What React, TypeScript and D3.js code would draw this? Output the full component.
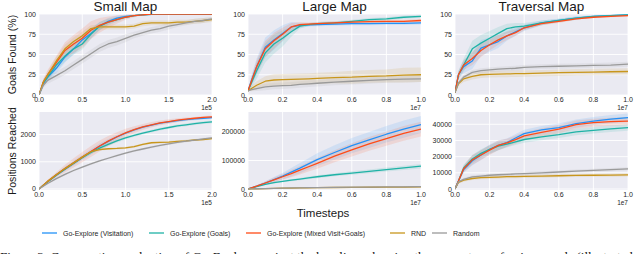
import React from "react";
import * as d3 from "d3";

const seriesNames = [
  "Go-Explore (Visitation)",
  "Go-Explore (Goals)",
  "Go-Explore (Mixed Visit+Goals)",
  "RND",
  "Random",
];
const seriesColors = ["#2391f7", "#1fb2a6", "#ff4b17", "#c8961c", "#9a9a9a"];

// x samples: small map in units of 1e5, large / traversal in units of 1e7
const smallX = [0, 0.05, 0.1, 0.2, 0.3, 0.4, 0.5, 0.6, 0.7, 0.8, 0.9, 1.0, 1.1, 1.2, 1.3, 1.4, 1.5, 1.6, 1.7, 1.8, 1.9, 2.0];
const bigX = [0, 0.02, 0.05, 0.1, 0.15, 0.2, 0.25, 0.3, 0.35, 0.4, 0.5, 0.6, 0.7, 0.8, 0.9, 1.0];

// Small map, goals found (%)
const smallGoalsVisitation = [0, 14, 22, 33, 47, 57, 68, 76, 85, 91, 95, 97, 98, 99, 99.5, 100, 100, 100, 100, 100, 100, 100];
const smallGoalsGoals = [0, 15, 22, 37, 48, 57, 63, 75, 85, 90, 93, 96, 98, 99, 99.5, 100, 100, 100, 100, 100, 100, 100];
const smallGoalsMixed = [0, 16, 25, 40, 55, 63, 70, 80, 86, 90, 93, 96, 98, 99, 100, 100, 100, 100, 100, 100, 100, 100];
const smallGoalsRnd = [0, 16, 25, 42, 57, 66, 73, 82, 84, 84, 84, 84, 85, 88, 89, 89, 89, 90, 90, 91, 92, 93];
const smallGoalsRandom = [0, 12, 18, 24, 30, 37, 44, 51, 58, 63, 66, 70, 74, 77, 80, 82, 85, 87, 89, 91, 92, 94];
const smallGoalsBandVisitation = [0, 4, 5, 6, 7, 7, 7, 6, 5, 4, 3, 2, 1, 1, 0, 0, 0, 0, 0, 0, 0, 0];
const smallGoalsBandGoals = [0, 4, 5, 6, 7, 7, 7, 6, 5, 4, 3, 2, 1, 1, 0, 0, 0, 0, 0, 0, 0, 0];
const smallGoalsBandMixed = [0, 4, 6, 8, 10, 11, 12, 11, 9, 7, 5, 3, 2, 1, 0, 0, 0, 0, 0, 0, 0, 0];
const smallGoalsBandRnd = [0, 3, 4, 5, 5, 5, 5, 4, 3, 3, 3, 3, 3, 3, 3, 3, 3, 3, 3, 3, 3, 3];
const smallGoalsBandRandom = [0, 3, 4, 5, 5, 5, 5, 5, 5, 5, 5, 5, 4, 4, 4, 4, 4, 3, 3, 3, 3, 2];

// Large map, goals found (%)
const largeGoalsVisitation = [5, 18, 35, 59, 68, 76, 84, 86, 86.5, 87, 87.5, 88, 88, 88.5, 88.5, 89];
const largeGoalsGoals = [5, 15, 30, 52, 63, 70, 78, 85, 87, 88, 89, 91, 93, 94, 96, 97];
const largeGoalsMixed = [5, 17, 35, 57, 67, 75, 84, 87, 87.5, 88, 89, 90, 90.5, 91, 91, 92];
const largeGoalsRnd = [5, 8, 12, 17, 18.5, 19, 19.2, 19.5, 20, 20.5, 21.5, 22, 23, 23.5, 24.5, 25];
const largeGoalsRandom = [5, 6.5, 8, 10, 11, 11.5, 12, 13, 13.8, 14.5, 16, 17, 18, 19, 19.5, 20];
const largeGoalsBandVisitation = [0, 6, 10, 12, 12, 10, 6, 3, 2, 2, 2, 2, 2, 2, 2, 2];
const largeGoalsBandGoals = [0, 6, 10, 12, 12, 10, 6, 3, 2, 2, 2, 2, 2, 2, 2, 2];
const largeGoalsBandMixed = [0, 5, 8, 10, 10, 8, 5, 3, 2, 2, 2, 2, 2, 2, 2, 2];
const largeGoalsBandRnd = [0, 3, 5, 6, 7, 7, 7, 7, 7, 7, 7, 8, 8, 8, 9, 9];
const largeGoalsBandRandom = [0, 2, 3, 4, 4, 4, 4, 4, 4, 4, 4, 4, 4, 4, 4, 4];

// Traversal map, goals found (%)
const travGoalsVisitation = [3, 25, 35, 42, 58, 62, 66, 73, 78, 83, 89, 92, 95, 97, 98, 99];
const travGoalsGoals = [3, 25, 37, 57, 64, 70, 76, 82, 84, 85, 89, 92, 95, 97, 98, 99];
const travGoalsMixed = [3, 25, 37, 45, 55, 62, 68, 73, 77, 83, 88, 91, 94, 96, 97, 98];
const travGoalsRnd = [3, 14, 20, 23, 25, 25.5, 25.8, 26, 26.3, 26.5, 27, 27.5, 28, 28.3, 28.7, 29];
const travGoalsRandom = [3, 15, 22, 28, 30, 31, 32, 32.5, 33, 34, 35, 35.5, 36, 36.5, 37, 38];
const travGoalsBandVisitation = [0, 5, 8, 10, 10, 9, 8, 6, 5, 4, 3, 2, 2, 1, 1, 1];
const travGoalsBandGoals = [0, 5, 8, 10, 10, 9, 8, 6, 5, 4, 3, 2, 2, 1, 1, 1];
const travGoalsBandMixed = [0, 4, 6, 8, 8, 7, 6, 5, 4, 3, 2, 2, 1, 1, 1, 1];
const travGoalsBandRnd = [0, 3, 4, 4, 4, 4, 4, 4, 4, 4, 4, 4, 4, 4, 4, 4];
const travGoalsBandRandom = [0, 2, 3, 3, 3, 3, 3, 3, 3, 3, 3, 3, 3, 3, 3, 3];

// Small map, positions reached
const smallPosVisitation = [0, 140, 270, 510, 740, 950, 1160, 1370, 1570, 1750, 1910, 2050, 2170, 2270, 2350, 2420, 2470, 2510, 2550, 2580, 2600, 2620];
const smallPosGoals = [0, 140, 270, 510, 730, 940, 1150, 1340, 1500, 1640, 1770, 1880, 1970, 2050, 2130, 2200, 2260, 2320, 2360, 2400, 2440, 2470];
const smallPosMixed = [0, 140, 280, 520, 750, 960, 1170, 1380, 1580, 1760, 1920, 2060, 2180, 2280, 2360, 2430, 2480, 2530, 2570, 2600, 2630, 2650];
const smallPosRnd = [0, 140, 280, 520, 750, 960, 1170, 1370, 1450, 1480, 1490, 1510, 1560, 1640, 1700, 1710, 1720, 1750, 1770, 1800, 1820, 1850];
const smallPosRandom = [0, 100, 200, 380, 540, 680, 800, 920, 1030, 1130, 1230, 1320, 1400, 1470, 1540, 1600, 1660, 1710, 1760, 1800, 1840, 1880];
const smallPosBandVisitation = [0, 20, 40, 60, 80, 90, 100, 100, 100, 90, 80, 70, 60, 60, 50, 50, 50, 50, 50, 50, 50, 50];
const smallPosBandGoals = [0, 20, 30, 40, 50, 60, 60, 60, 60, 60, 60, 60, 50, 50, 50, 50, 50, 50, 50, 50, 50, 50];
const smallPosBandMixed = [0, 30, 60, 100, 140, 170, 190, 200, 200, 190, 170, 150, 130, 110, 100, 90, 80, 70, 60, 50, 50, 50];
const smallPosBandRnd = [0, 20, 30, 40, 40, 40, 40, 40, 40, 40, 40, 40, 40, 40, 40, 40, 40, 40, 40, 40, 40, 40];
const smallPosBandRandom = [0, 20, 30, 40, 40, 40, 40, 40, 40, 40, 40, 40, 40, 40, 40, 40, 40, 40, 40, 40, 40, 40];

// Large map, positions reached
const largePosVisitation = [0, 4000, 10000, 21000, 33000, 45000, 59000, 73000, 88000, 103000, 128000, 152000, 172000, 192000, 210000, 226000];
const largePosGoals = [0, 3500, 8500, 16000, 22000, 27000, 31000, 35000, 39000, 43000, 50000, 56000, 62000, 68000, 74000, 80000];
const largePosMixed = [0, 4000, 10000, 21000, 32000, 43000, 54000, 66000, 78000, 90000, 115000, 137000, 158000, 177000, 195000, 210000];
const largePosRnd = [0, 300, 800, 1500, 2200, 2800, 3300, 3800, 4200, 4600, 5200, 5800, 6200, 6600, 6900, 7200];
const largePosRandom = [0, 300, 800, 1600, 2400, 3000, 3600, 4100, 4600, 5000, 5700, 6300, 6900, 7400, 7800, 8200];
const largePosBandVisitation = [0, 1000, 3000, 6000, 9000, 12000, 15000, 18000, 20000, 22000, 25000, 27000, 28000, 29000, 30000, 30000];
const largePosBandGoals = [0, 500, 1000, 2000, 2500, 3000, 3500, 4000, 4500, 5000, 5500, 6000, 6500, 7000, 7500, 8000];
const largePosBandMixed = [0, 1000, 3000, 5000, 8000, 10000, 13000, 15000, 17000, 19000, 21000, 23000, 24000, 25000, 26000, 26000];
const largePosBandRnd = [0, 300, 500, 700, 800, 900, 1000, 1000, 1000, 1000, 1000, 1000, 1000, 1000, 1000, 1000];
const largePosBandRandom = [0, 300, 500, 700, 800, 900, 1000, 1000, 1000, 1000, 1000, 1000, 1000, 1000, 1000, 1000];

// Traversal map, positions reached
const travPosVisitation = [0, 5000, 12000, 17500, 21000, 24500, 27000, 28700, 31500, 34200, 36500, 38000, 40400, 42000, 43200, 44100];
const travPosGoals = [0, 5000, 13000, 18500, 22000, 24500, 26500, 27700, 29200, 30600, 32200, 33600, 35300, 36300, 37200, 38000];
const travPosMixed = [0, 5000, 12500, 18000, 21000, 24000, 27000, 28500, 30500, 32800, 35000, 37000, 39800, 41000, 41600, 42000];
const travPosRnd = [0, 4000, 5500, 6500, 7000, 7200, 7400, 7600, 7700, 7800, 8000, 8200, 8400, 8500, 8600, 8700];
const travPosRandom = [0, 4500, 6000, 7500, 8000, 8500, 8800, 9000, 9300, 9500, 10000, 10500, 11000, 11500, 12000, 12500];
const travPosBandVisitation = [0, 1000, 2000, 3000, 3000, 3000, 3000, 2500, 2500, 2500, 2500, 2500, 2500, 2500, 2500, 2500];
const travPosBandGoals = [0, 1000, 2000, 2500, 2500, 2500, 2500, 2000, 2000, 2000, 2000, 2000, 2000, 2000, 2000, 2000];
const travPosBandMixed = [0, 1000, 2000, 3000, 3000, 3000, 3000, 2500, 2500, 2500, 2500, 2500, 2500, 2500, 2500, 2500];
const travPosBandRnd = [0, 800, 1000, 1000, 1000, 1000, 1000, 1000, 1000, 1000, 1000, 1000, 1000, 1000, 1000, 1000];
const travPosBandRandom = [0, 800, 1000, 1000, 1000, 1000, 1000, 1000, 1000, 1000, 1000, 1000, 1000, 1000, 1000, 1000];

// axis ticks
const smallXTicks = [0, 0.5, 1.0, 1.5, 2.0];
const bigXTicks = [0, 0.2, 0.4, 0.6, 0.8, 1.0];
const goalTicks = [0, 25, 50, 75, 100];
const smallPosTicks = [0, 1000, 2000];
const largePosTicks = [0, 100000, 200000];
const travPosTicks = [0, 10000, 20000, 30000, 40000];

const titles = ["Small Map", "Large Map", "Traversal Map"];
const rowLabels = ["Goals Found (%)", "Positions Reached"];

const W = 640;
const H = 254;
const colLeft = [39, 248, 455];
const colWidth = 173;
const rowTop = [14, 112];
const rowBottom = [95, 190];
const FONT = "'Liberation Sans', Arial, sans-serif";

type Panel = {
  col: number;
  row: number;
  xs: number[];
  means: number[][];
  bands: number[][];
  xDomain: [number, number];
  yDomain: [number, number];
  xTicks: number[];
  yTicks: number[];
  offset: string;
};

const panels: Panel[] = [
  {
    col: 0, row: 0, xs: smallX,
    means: [smallGoalsVisitation, smallGoalsGoals, smallGoalsMixed, smallGoalsRnd, smallGoalsRandom],
    bands: [smallGoalsBandVisitation, smallGoalsBandGoals, smallGoalsBandMixed, smallGoalsBandRnd, smallGoalsBandRandom],
    xDomain: [0, 2], yDomain: [0, 100], xTicks: smallXTicks, yTicks: goalTicks, offset: "1e5",
  },
  {
    col: 1, row: 0, xs: bigX,
    means: [largeGoalsVisitation, largeGoalsGoals, largeGoalsMixed, largeGoalsRnd, largeGoalsRandom],
    bands: [largeGoalsBandVisitation, largeGoalsBandGoals, largeGoalsBandMixed, largeGoalsBandRnd, largeGoalsBandRandom],
    xDomain: [0, 1], yDomain: [0, 100], xTicks: bigXTicks, yTicks: goalTicks, offset: "1e7",
  },
  {
    col: 2, row: 0, xs: bigX,
    means: [travGoalsVisitation, travGoalsGoals, travGoalsMixed, travGoalsRnd, travGoalsRandom],
    bands: [travGoalsBandVisitation, travGoalsBandGoals, travGoalsBandMixed, travGoalsBandRnd, travGoalsBandRandom],
    xDomain: [0, 1], yDomain: [0, 100], xTicks: bigXTicks, yTicks: goalTicks, offset: "1e7",
  },
  {
    col: 0, row: 1, xs: smallX,
    means: [smallPosVisitation, smallPosGoals, smallPosMixed, smallPosRnd, smallPosRandom],
    bands: [smallPosBandVisitation, smallPosBandGoals, smallPosBandMixed, smallPosBandRnd, smallPosBandRandom],
    xDomain: [0, 2], yDomain: [-37, 2830], xTicks: smallXTicks, yTicks: smallPosTicks, offset: "1e5",
  },
  {
    col: 1, row: 1, xs: bigX,
    means: [largePosVisitation, largePosGoals, largePosMixed, largePosRnd, largePosRandom],
    bands: [largePosBandVisitation, largePosBandGoals, largePosBandMixed, largePosBandRnd, largePosBandRandom],
    xDomain: [0, 1], yDomain: [-3500, 270000], xTicks: bigXTicks, yTicks: largePosTicks, offset: "1e7",
  },
  {
    col: 2, row: 1, xs: bigX,
    means: [travPosVisitation, travPosGoals, travPosMixed, travPosRnd, travPosRandom],
    bands: [travPosBandVisitation, travPosBandGoals, travPosBandMixed, travPosBandRnd, travPosBandRandom],
    xDomain: [0, 1], yDomain: [-615, 47600], xTicks: bigXTicks, yTicks: travPosTicks, offset: "1e7",
  },
];

const PanelView = ({ p, id }: { p: Panel; id: string }) => {
  const left = colLeft[p.col];
  const right = left + colWidth;
  const top = rowTop[p.row];
  const bottom = rowBottom[p.row];
  const x = d3.scaleLinear().domain(p.xDomain).range([left, right]);
  const y = d3.scaleLinear().domain(p.yDomain).range([bottom, top]);

  return (
    <g>
      <defs>
        <clipPath id={id}>
          <rect x={left} y={top} width={right - left} height={bottom - top} />
        </clipPath>
      </defs>
      <rect x={left} y={top} width={right - left} height={bottom - top} fill="#eaeaf2" />
      {p.xTicks.map((t) => (
        <line key={"gx" + t} x1={x(t)} x2={x(t)} y1={top} y2={bottom} stroke="#fff" strokeWidth={0.9} />
      ))}
      {p.yTicks.map((t) => (
        <line key={"gy" + t} x1={left} x2={right} y1={y(t)} y2={y(t)} stroke="#fff" strokeWidth={0.9} />
      ))}
      <g clipPath={`url(#${id})`}>
        {p.means.map((m, s) => {
          const band = p.bands[s];
          const area = d3
            .area<number>()
            .x((_, i) => x(p.xs[i]))
            .y0((v, i) => y(v - band[i]))
            .y1((v, i) => y(v + band[i]));
          return <path key={"b" + s} d={area(m) ?? ""} fill={seriesColors[s]} fillOpacity={0.13} />;
        })}
        {p.means.map((m, s) => {
          const ln = d3
            .line<number>()
            .x((_, i) => x(p.xs[i]))
            .y((v) => y(v));
          return (
            <path key={"l" + s} d={ln(m) ?? ""} fill="none" stroke={seriesColors[s]} strokeWidth={1.3} strokeLinejoin="round" />
          );
        })}
      </g>
      {p.yTicks.map((t) => (
        <text key={"ty" + t} x={left - 3} y={y(t) + 2.5} fontSize={7} textAnchor="end" fill="#262626" fontFamily={FONT}>
          {d3.format("d")(t)}
        </text>
      ))}
      {p.xTicks.map((t) => (
        <text key={"tx" + t} x={x(t)} y={bottom + 7} fontSize={7} textAnchor="middle" fill="#262626" fontFamily={FONT}>
          {d3.format(".1f")(t)}
        </text>
      ))}
      <text x={right} y={bottom + 15} fontSize={6.5} textAnchor="end" fill="#262626" fontFamily={FONT}>
        {p.offset}
      </text>
    </g>
  );
};

const legendLineX = [42, 149, 246, 390, 432];

export default function App() {
  return (
    <svg
      width={W}
      height={H}
      style={{ position: "absolute", left: 0, top: 0, background: "#fff" }}
    >
      {panels.map((p, i) => (
        <PanelView key={i} p={p} id={"clip" + i} />
      ))}
      {titles.map((t, i) => (
        <text key={t} x={colLeft[i] + colWidth / 2} y={11} fontSize={13.5} textAnchor="middle" fill="#1a1a1a" fontFamily={FONT}>
          {t}
        </text>
      ))}
      {rowLabels.map((t, i) => (
        <text
          key={t}
          transform={`translate(16,${(rowTop[i] + rowBottom[i]) / 2}) rotate(-90)`}
          fontSize={10.5}
          textAnchor="middle"
          fill="#1a1a1a"
          fontFamily={FONT}
        >
          {t}
        </text>
      ))}
      <text x={323} y={217} fontSize={11.5} textAnchor="middle" fill="#1a1a1a" fontFamily={FONT}>
        Timesteps
      </text>
      {seriesNames.map((n, i) => (
        <g key={n}>
          <line x1={legendLineX[i]} x2={legendLineX[i] + 15} y1={233} y2={233} stroke={seriesColors[i]} strokeWidth={1.3} />
          <text x={legendLineX[i] + 21} y={235.5} fontSize={7} fill="#262626" fontFamily={FONT}>
            {n}
          </text>
        </g>
      ))}
      <text x={0} y={260.5} fontSize={13} fill="#111" fontFamily="'Liberation Serif', 'Times New Roman', serif">
        Figure 3: Comparative evaluation of Go-Explore against the baselines showing the percentage of unique goals (illustrated
      </text>
    </svg>
  );
}
